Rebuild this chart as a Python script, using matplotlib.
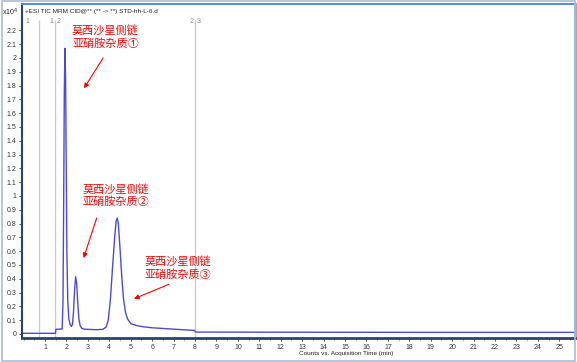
import matplotlib.pyplot as plt
import matplotlib.patches as patches
from matplotlib.ticker import MultipleLocator

# chromatogram (time in min, counts x10^4)
times = [0.0, 1.49, 1.51, 1.80, 1.84, 1.87, 1.90, 1.93, 1.96, 1.99, 2.02, 2.06,
         2.11, 2.17, 2.23, 2.28, 2.33, 2.38, 2.43, 2.48, 2.53, 2.58, 2.64, 2.72,
         2.85, 3.10, 3.40, 3.70, 3.85, 3.95, 4.05, 4.15, 4.25, 4.32, 4.37, 4.42,
         4.50, 4.58, 4.66, 4.75, 4.85, 5.00, 5.25, 5.60, 6.00, 7.00, 7.98, 8.02,
         12.0, 18.0, 25.7]
counts = [0.005, 0.005, 0.034, 0.036, 0.25, 0.95, 1.75, 2.07, 1.85, 1.20, 0.60, 0.25,
          0.11, 0.07, 0.055, 0.07, 0.16, 0.32, 0.415, 0.36, 0.22, 0.11, 0.06, 0.04,
          0.035, 0.033, 0.031, 0.034, 0.05, 0.10, 0.25, 0.48, 0.70, 0.82, 0.84, 0.80,
          0.62, 0.42, 0.26, 0.16, 0.11, 0.075, 0.062, 0.052, 0.045, 0.035, 0.026, 0.014,
          0.013, 0.012, 0.012]

y_ticks = [round(i * 0.1, 1) for i in range(23)]
y_labels = ["%g" % v for v in y_ticks]
x_ticks = list(range(1, 26))
seg_lines = [0.73, 1.47, 8.0]

notes = ["莫西沙星侧链\n亚硝胺杂质①", "莫西沙星侧链\n亚硝胺杂质②", "莫西沙星侧链\n亚硝胺杂质③"]
note_xy = [(2.26, 2.24), (2.76, 1.09), (5.65, 0.565)]
arrow_tail = [(3.71, 2.0), (3.41, 0.84), (6.78, 0.36)]
arrow_head = [(2.82, 1.78), (2.80, 0.55), (5.15, 0.255)]

plt.rcParams['font.family'] = ['Liberation Sans', 'DejaVu Sans']

fig = plt.figure(figsize=(5.77, 3.62), dpi=100)
fig.patch.set_facecolor('white')
ax = fig.add_axes([0.0381, 0.0663, 0.9584, 0.9227])

ax.plot(times, counts, color='#4a4ae0', lw=1.0)
ax.vlines(seg_lines, -0.03, 2.275, color='#cccccc', lw=1.0, zorder=0)

ax.set_xlim(-0.075, 25.73)
ax.set_ylim(-0.029, 2.391)
ax.set_yticks(y_ticks)
ax.set_yticklabels(y_labels)
ax.set_xticks(x_ticks)
ax.xaxis.set_minor_locator(MultipleLocator(0.5))
ax.tick_params(axis='both', labelsize=5, colors='#333333', length=2.5, width=0.6, pad=1.5)
ax.tick_params(axis='x', which='minor', length=1.5, width=0.5, colors='#333333')

for side in ['left', 'bottom']:
    ax.spines[side].set_color('#2a4470')
ax.spines['left'].set_linewidth(1.5)
ax.spines['bottom'].set_linewidth(2.0)
ax.spines['top'].set_color('#5b8ddb')
ax.spines['top'].set_linewidth(1.5)
ax.spines['right'].set_color('#7aa3e3')
ax.spines['right'].set_linewidth(2.0)

# segment labels
seg_font = dict(fontsize=5, color='#888888', va='center')
ax.text(0.1, 2.265, "1", ha='left', **seg_font)
ax.text(1.40, 2.265, "1", ha='right', **seg_font)
ax.text(1.54, 2.265, "2", ha='left', **seg_font)
ax.text(7.93, 2.265, "2", ha='right', **seg_font)
ax.text(8.07, 2.265, "3", ha='left', **seg_font)

for txt, xy, tail, head in zip(notes, note_xy, arrow_tail, arrow_head):
    ax.text(xy[0], xy[1], txt, ha='left', va='top', color='red', fontsize=8,
            linespacing=1.25, family=['Noto Sans CJK SC', 'DejaVu Sans'])
    ax.annotate("", xy=head, xytext=tail,
                arrowprops=dict(arrowstyle='-|>', color='red', lw=0.8,
                                mutation_scale=7, shrinkA=0, shrinkB=0))

fig.text(25 / 577, 1 - 12 / 362, "+ESI TIC MRM CID@** (** -> **) STD-hh-L-6.d",
         fontsize=4.6, va='center', ha='left', color='#222222')
fig.text(2 / 577, 1 - 12 / 362, "x10$^4$", fontsize=5, va='center', ha='left',
         color='#222222')
fig.text(346 / 577, 1 - 353 / 362, "Counts vs. Acquisition Time (min)", fontsize=4.6,
         ha='center', va='center', color='#222222')

fig.patches.append(patches.Rectangle((0.003, 0.004), 0.994, 0.992, transform=fig.transFigure,
                                     fill=False, edgecolor='#a8bdd8', lw=1.2))

fig.savefig('out.png', dpi=100)
